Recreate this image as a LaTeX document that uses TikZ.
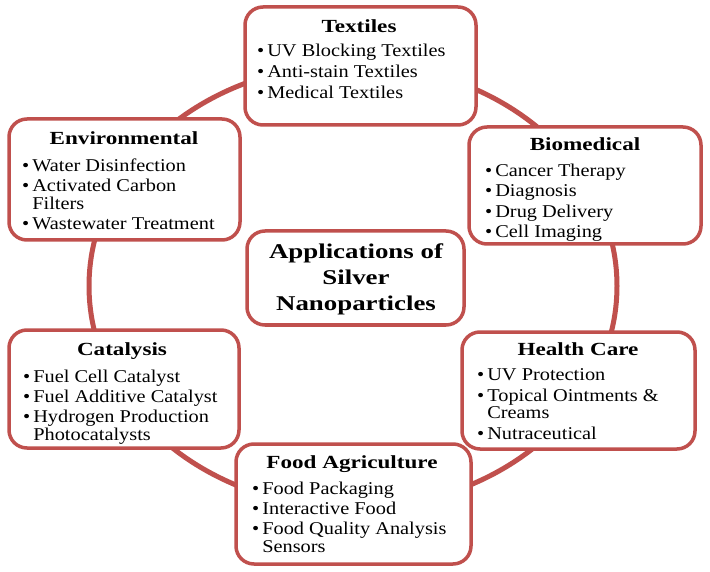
\documentclass[tikz,border=0pt]{standalone}
\usepackage{fontspec}
\setmainfont{Liberation Serif}
\newfontfamily\itmfont[FakeStretch=1.13]{Liberation Serif}
\newfontfamily\ttlfont[FakeStretch=1.25]{Liberation Serif}
\newfontfamily\ctrfont[FakeStretch=1.28]{Liberation Serif}
\definecolor{ringred}{RGB}{192,80,77}
\begin{document}
\begin{tikzpicture}[x=1pt,y=-1pt,
  box/.style={draw=ringred, line width=3.5pt, rounded corners=18pt, fill=white, inner sep=0pt},
  ttl/.style={anchor=base, inner sep=0pt, font=\ttlfont\fontsize{18.5}{20}\selectfont\bfseries},
  ctr/.style={anchor=base, inner sep=0pt, font=\ctrfont\fontsize{21}{26}\selectfont\bfseries},
  itm/.style={anchor=base west, inner sep=0pt, font=\itmfont\fontsize{18}{20}\selectfont}]
\useasboundingbox[fill=white] (0,0) rectangle (710,572);
\newcommand{\bul}{\textbullet\hspace{3pt}}
\newcommand{\nob}{\hphantom{\textbullet\hspace{3pt}}}
% ring
\draw[ringred, line width=5pt] (353,286) ellipse [x radius=264, y radius=222];
% boxes
\node[box, minimum width=231pt, minimum height=118pt] (textiles) at (360.5,66) {};
\node[box, minimum width=231pt, minimum height=121pt] (environ) at (124.5,179.5) {};
\node[box, minimum width=232pt, minimum height=117pt] (biomed) at (585,185.5) {};
\node[box, minimum width=217pt, minimum height=94pt] (center) at (355.5,278) {};
\node[box, minimum width=230pt, minimum height=118pt] (catal) at (124,389) {};
\node[box, minimum width=233pt, minimum height=117pt] (health) at (578.5,390.5) {};
\node[box, minimum width=235pt, minimum height=120pt] (food) at (353.5,504) {};
% center text
\node[ctr] (c1) at (356,259) {Applications of};
\node[ctr] (c2) at (356,285) {Silver};
\node[ctr] (c3) at (356,311) {Nanoparticles};
% textiles
\node[ttl] (tt) at (359,33) {Textiles};
\node[itm] (t1) at (257,57) {\bul UV Blocking Textiles};
\node[itm] (t2) at (257,78) {\bul Anti-stain Textiles};
\node[itm] (t3) at (257,99) {\bul Medical Textiles};
% environmental
\node[ttl] (et) at (124,145) {Environmental};
\node[itm] (e1) at (22,172) {\bul Water Disinfection};
\node[itm] (e2) at (22,192) {\bul Activated Carbon};
\node[itm] (e2b) at (22,210) {\nob Filters};
\node[itm] (e3) at (22,230) {\bul Wastewater Treatment};
% biomedical
\node[ttl] (bt) at (585,151) {Biomedical};
\node[itm] (b1) at (485,177) {\bul Cancer Therapy};
\node[itm] (b2) at (485,197) {\bul Diagnosis};
\node[itm] (b3) at (485,218) {\bul Drug Delivery};
\node[itm] (b4) at (485,238) {\bul Cell Imaging};
% catalysis
\node[ttl] (kt) at (122,355) {Catalysis};
\node[itm] (k1) at (23,382) {\bul Fuel Cell Catalyst};
\node[itm] (k2) at (23,402) {\bul Fuel Additive Catalyst};
\node[itm] (k3) at (23,422) {\bul Hydrogen Production};
\node[itm] (k3b) at (23,440) {\nob Photocatalysts};
% health care
\node[ttl] (ht) at (578,355) {Health Care};
\node[itm] (h1) at (477,380) {\bul UV Protection};
\node[itm] (h2) at (477,401) {\bul Topical Ointments \&};
\node[itm] (h2b) at (477,418) {\nob Creams};
\node[itm] (h3) at (477,439) {\bul Nutraceutical};
% food agriculture
\node[ttl] (ft) at (352,468) {Food Agriculture};
\node[itm] (f1) at (252,494) {\bul Food Packaging};
\node[itm] (f2) at (252,514) {\bul Interactive Food};
\node[itm] (f3) at (252,534) {\bul Food Quality Analysis};
\node[itm] (f3b) at (252,552) {\nob Sensors};
\end{tikzpicture}
\end{document}
